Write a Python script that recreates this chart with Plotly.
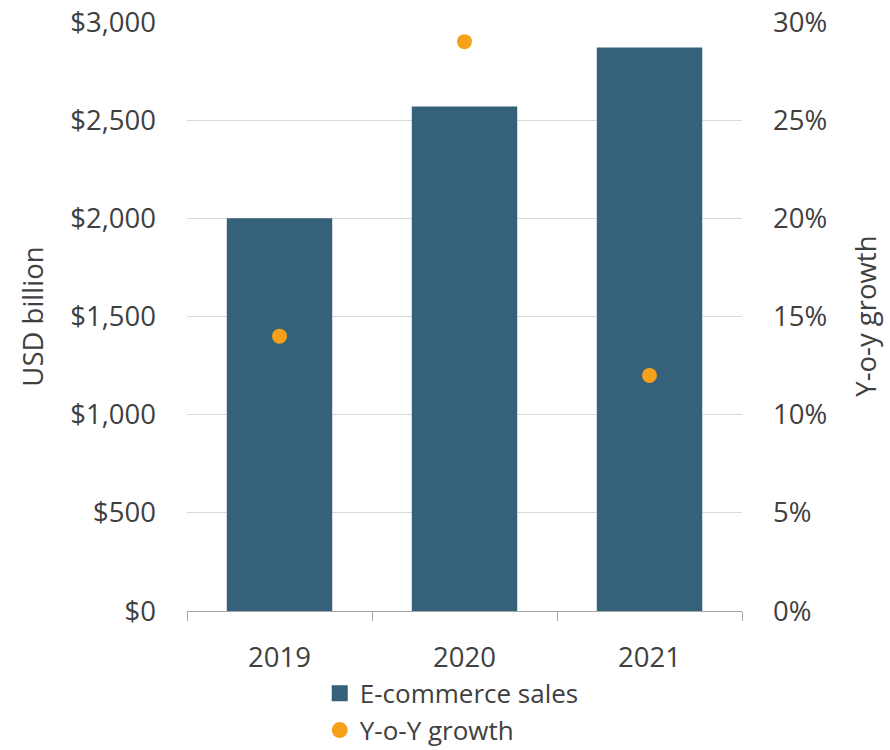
import plotly.graph_objects as go

years = ["2019", "2020", "2021"]
sales_usd_bn = [2000, 2570, 2870]
yoy_growth_pct = [14, 29, 12]

sales_ticks = [0, 500, 1000, 1500, 2000, 2500, 3000]
sales_tick_labels = ["$0", "$500", "$1,000", "$1,500", "$2,000", "$2,500", "$3,000"]
growth_ticks = [0, 5, 10, 15, 20, 25, 30]
growth_tick_labels = ["0%", "5%", "10%", "15%", "20%", "25%", "30%"]

bar_color = "#35627a"
dot_color = "#f7a11b"
text_color = "#404040"
font_family = "Open Sans, Liberation Sans, sans-serif"
font_size = 27.5
legend_font_size = 26

fig = go.Figure()

fig.add_trace(go.Bar(
    x=years, y=sales_usd_bn, name="E-commerce sales",
    marker=dict(color=bar_color, line=dict(width=0)),
    width=0.57, yaxis="y", showlegend=False,
))

fig.add_trace(go.Scatter(
    x=years, y=yoy_growth_pct, name="Y-o-Y growth", mode="markers",
    marker=dict(color=dot_color, size=15, symbol="circle"),
    yaxis="y2", showlegend=False,
))

# legend entries drawn with larger swatches
fig.add_trace(go.Scatter(
    x=[None], y=[None], name="E-commerce sales", mode="markers",
    marker=dict(color=bar_color, size=20, symbol="square"), yaxis="y",
))
fig.add_trace(go.Scatter(
    x=[None], y=[None], name="Y-o-Y growth", mode="markers",
    marker=dict(color=dot_color, size=16, symbol="circle"), yaxis="y2",
))

fig.update_layout(
    width=890, height=750,
    margin=dict(l=187, r=148, t=22, b=139, autoexpand=False),
    paper_bgcolor="white", plot_bgcolor="white",
    font=dict(family=font_family, size=font_size, color=text_color),
    showlegend=True,
    legend=dict(
        orientation="v", x=0.477, xanchor="center", y=-0.1, yanchor="top",
        font=dict(size=legend_font_size, color=text_color), itemsizing="trace",
        itemwidth=30, tracegroupgap=0, traceorder="normal",
    ),
    xaxis=dict(
        type="category",
        showline=True, linecolor="#a6a6a6", linewidth=1.3,
        ticks="outside", tickson="boundaries", ticklen=9, tickcolor="#a6a6a6",
        tickwidth=1.3, ticklabelstandoff=22,
        showgrid=False,
    ),
    yaxis=dict(
        range=[0, 3000], tickmode="array", tickvals=sales_ticks,
        ticktext=sales_tick_labels,
        showgrid=True, gridcolor="#d9d9d9", gridwidth=1.3,
        zeroline=False, showline=False, ticks="", ticklabelstandoff=30,
    ),
    yaxis2=dict(
        range=[0, 30], tickmode="array", tickvals=growth_ticks,
        ticktext=growth_tick_labels,
        overlaying="y", side="right",
        showgrid=False, zeroline=False, showline=False, ticks="",
        ticklabelstandoff=30,
    ),
    annotations=[
        dict(text="USD billion", xref="paper", yref="paper",
             x=-0.279, y=0.5, xanchor="center", yanchor="middle",
             textangle=-90, showarrow=False,
             font=dict(size=font_size, color=text_color)),
        dict(text="Y-o-y growth", xref="paper", yref="paper",
             x=1.222, y=0.5, xanchor="center", yanchor="middle",
             textangle=-90, showarrow=False,
             font=dict(size=font_size, color=text_color)),
    ],
)

fig.write_html("out.html")
